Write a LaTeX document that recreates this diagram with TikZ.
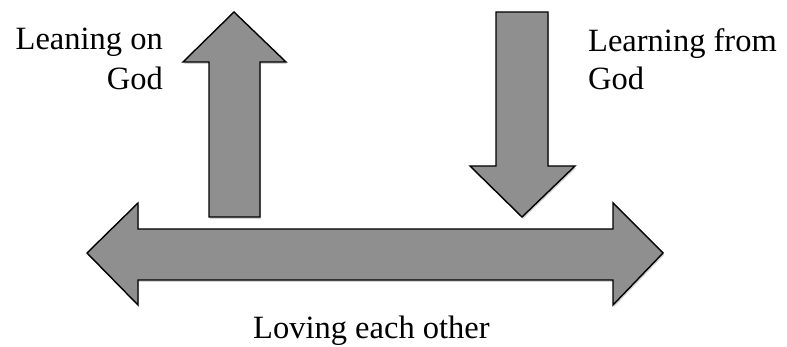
\documentclass[tikz,border=0pt]{standalone}
\usepackage{fontspec}
\setmainfont{Liberation Serif}
\usetikzlibrary{shadows}
\begin{document}
\begin{tikzpicture}[x=1pt,y=1pt,
  arrowshape/.style={draw=black, line width=1.4pt, fill=arrowgray, line join=miter,
    drop shadow={opacity=0.35, shadow xshift=1pt, shadow yshift=-2pt}},
  lbl/.style={font=\fontsize{32.5}{39}\selectfont, inner sep=0pt}]
\definecolor{arrowgray}{HTML}{8F8F8F}
\useasboundingbox (0,0) rectangle (787,347);
% up arrow
\path[arrowshape] (234,335) -- (286,285) -- (260,285) -- (260,130) -- (209,130) -- (209,285) -- (183,285) -- cycle;
% down arrow
\path[arrowshape] (496,335) -- (548,335) -- (548,181) -- (575,181) -- (522,130) -- (470,181) -- (496,181) -- cycle;
% double horizontal arrow
\path[arrowshape] (87,94) -- (138,144) -- (138,118) -- (613,118) -- (613,144) -- (663,94) -- (613,42) -- (613,67) -- (138,67) -- (138,42) -- cycle;
% labels
\node[lbl, anchor=base east] (lean1) at (163,297) {Leaning on};
\node[lbl, anchor=base east] (lean2) at (163,257) {God};
\node[lbl, anchor=base west] (learn1) at (588,295) {Learning from};
\node[lbl, anchor=base west] (learn2) at (588,257) {God};
\node[lbl, anchor=base west] (love) at (253,8) {Loving each other};
\end{tikzpicture}
\end{document}
